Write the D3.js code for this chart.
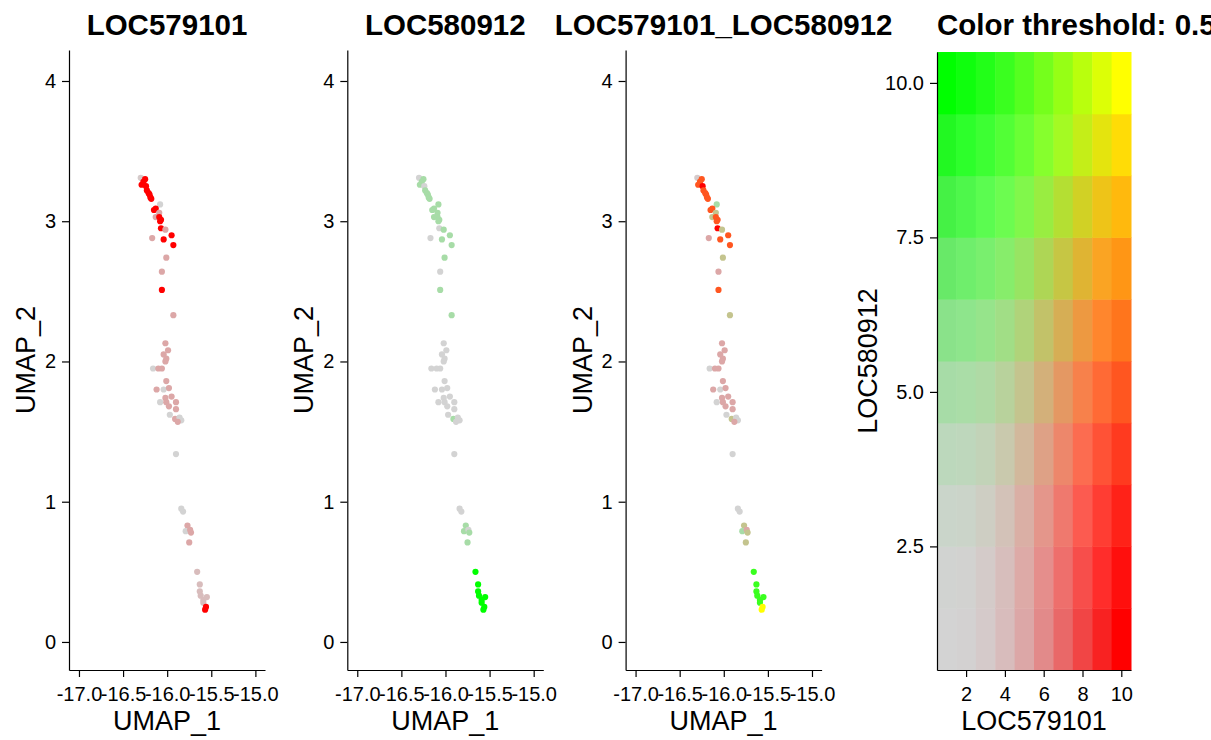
<!DOCTYPE html>
<html>
<head>
<meta charset="utf-8">
<script src="https://cdn.jsdelivr.net/npm/d3@7"></script>
<style>
  body { margin: 0; background: #fff; }
  svg text { font-family: "Liberation Sans", Arial, sans-serif; fill: #000; }
  .title { font-size: 29.5px; font-weight: bold; }
  .axis-title { font-size: 27px; }
  .tick text { font-size: 20px; }
  .domain, .tick line { stroke: #000; stroke-width: 1.2px; }
</style>
</head>
<body>
<svg width="1211" height="740"></svg>
<script>
const gene1 = "LOC579101";
const gene2 = "LOC580912";
const colThreshold = 0.5;

// UMAP coordinates of each cell
const umap1 = [
  -16.30, -16.25, -16.27, -16.29, -16.24, -16.23, -16.21, -16.20, -16.19, -16.18,
  -16.08, -16.13, -16.15, -16.09, -16.13, -16.09, -16.07, -16.08, -16.07, -16.02,
  -16.17, -16.04, -15.95, -15.93, -16.01, -16.06, -16.06, -15.93, -16.02, -15.99,
  -16.04, -16.01, -16.02, -16.16, -16.10, -16.06, -16.01, -16.12, -16.04, -15.98,
  -16.08, -16.02, -16.01, -15.95, -15.98, -15.90, -15.90, -15.91, -15.97, -15.86,
  -15.84, -15.88, -15.90, -15.84, -15.82, -15.77, -15.79, -15.74, -15.73, -15.75,
  -15.66, -15.63, -15.63, -15.62, -15.55, -15.59, -15.59, -15.56, -15.57
];
const umap2 = [
  3.31, 3.30, 3.28, 3.26, 3.25, 3.22, 3.20, 3.19, 3.17, 3.16,
  3.12, 3.09, 3.08, 3.06, 3.03, 3.03, 3.01, 3.00, 2.95, 2.94,
  2.88, 2.87, 2.90, 2.83, 2.74, 2.64, 2.51, 2.33, 2.13, 2.08,
  2.05, 2.02, 2.00, 1.95, 1.95, 1.95, 1.86, 1.80, 1.80, 1.81,
  1.71, 1.74, 1.71, 1.75, 1.68, 1.71, 1.66, 1.59, 1.62, 1.60,
  1.58, 1.57, 1.34, 0.95, 0.93, 0.83, 0.79, 0.80, 0.78, 0.71,
  0.50, 0.41, 0.36, 0.33, 0.32, 0.30, 0.28, 0.25, 0.23
];
// binned expression (1-10) of each gene per cell
const level1 = [
  3, 10, 10, 10, 10, 10, 10, 10, 10, 10,
  1, 10, 10, 5, 5, 10, 10, 10, 10, 5,
  5, 10, 10, 10, 5, 5, 10, 5, 5, 5,
  5, 5, 5, 1, 5, 5, 5, 5, 1, 5,
  1, 5, 5, 5, 5, 5, 5, 5, 1, 1,
  1, 5, 1, 1, 1, 5, 1, 5, 5, 5,
  4, 4, 4, 4, 4, 4, 4, 10, 10
];
const level2 = [
  1, 5, 5, 5, 1, 5, 5, 5, 5, 5,
  5, 5, 5, 5, 5, 5, 5, 5, 1, 5,
  1, 5, 5, 5, 5, 1, 5, 5, 1, 1,
  1, 1, 1, 1, 1, 1, 1, 1, 1, 1,
  1, 1, 1, 1, 1, 1, 1, 5, 1, 1,
  1, 1, 1, 1, 1, 5, 5, 1, 5, 5,
  10, 10, 10, 10, 10, 10, 10, 10, 10
];

const xTicks = [-17, -16.5, -16, -15.5, -15];
const yTicks = [0, 1, 2, 3, 4];
const blendLevels = [1, 2, 3, 4, 5, 6, 7, 8, 9, 10];
const blendXTicks = [2, 4, 6, 8, 10];
const blendYTicks = [2.5, 5, 7.5, 10];

// Seurat style blend of two gradients (negative: lightgrey, red, green)
const blendColor = (i, j, n = 10) => {
  const c0 = [211, 211, 211], c1 = [255, 0, 0], c2 = [0, 255, 0];
  const sig = x => 1 / (1 + Math.exp(-x));
  const cMin = sig(5 * (1 / n - colThreshold));
  const cMax = sig(5 * (1 - colThreshold));
  const norm = w => (w - cMin) / (cMax - cMin);
  const w1 = norm(sig(5 * (i / n - colThreshold)));
  const w2 = norm(sig(5 * (j / n - colThreshold)));
  const w0 = norm(sig(5 * ((i + j) / (2 * n) - colThreshold)));
  const rgb = c0.map((c, k) =>
    (c1[k] - c) * w1 * (i - 1) / (n - 1) +
    (c2[k] - c) * w2 * (j - 1) / (n - 1) +
    (i - 1) * (j - 1) * w0 * c / ((n - 1) ** 2) + c);
  return d3.rgb(...rgb.map(v => Math.max(0, Math.min(255, v)))).formatHex();
};

window.onload = () => {
  const svg = d3.select("svg");
  const cells = umap1.map((u, i) => ({ u1: u, u2: umap2[i], l1: level1[i], l2: level2[i] }));

  const plotW = 196, plotTop = 50, plotH = 620;

  const x = d3.scaleLinear().domain([-17.113, -14.891]).range([0, plotW]);
  const y = d3.scaleLinear().domain([-0.2, 4.221]).range([plotH, 0]);

  const panels = [
    { title: gene1, left: 69, color: d => blendColor(d.l1, 1) },
    { title: gene2, left: 347.3, color: d => blendColor(1, d.l2) },
    { title: `${gene1}_${gene2}`, left: 625.6, color: d => blendColor(d.l1, d.l2) }
  ];

  panels.forEach(p => drawScatter(svg, p, cells, x, y, plotW, plotTop, plotH));
  drawBlendMatrix(svg);
};

const drawScatter = (svg, p, cells, x, y, plotW, plotTop, plotH) => {
  const g = svg.append("g")
    .attr("transform", `translate(${p.left}, ${plotTop})`);

  g.append("g")
    .attr("transform", `translate(0, ${plotH})`)
    .call(d3.axisBottom(x).tickValues(xTicks).tickSize(7).tickSizeOuter(0).tickPadding(10)
      .tickFormat(d => d.toFixed(1)));

  g.append("g")
    .call(d3.axisLeft(y).tickValues(yTicks).tickSize(7).tickSizeOuter(0).tickPadding(6)
      .tickFormat(d => d.toFixed(0)));

  g.append("g")
    .selectAll("circle")
    .data(cells)
    .enter().append("circle")
      .attr("cx", d => x(d.u1))
      .attr("cy", d => y(d.u2))
      .attr("r", 3.1)
      .attr("fill", p.color);

  g.append("text")
    .attr("class", "title")
    .attr("text-anchor", "middle")
    .attr("x", plotW / 2)
    .attr("y", 35 - plotTop)
    .text(p.title);

  g.append("text")
    .attr("class", "axis-title")
    .attr("text-anchor", "middle")
    .attr("x", plotW / 2)
    .attr("y", 730 - plotTop)
    .text("UMAP_1");

  g.append("text")
    .attr("class", "axis-title")
    .attr("text-anchor", "middle")
    .attr("transform", `translate(${-34}, ${plotH / 2}) rotate(-90)`)
    .text("UMAP_2");
};

const drawBlendMatrix = (svg) => {
  const left = 937, right = 1131, top = 52, bottom = 670;

  const x = d3.scaleLinear().domain([0.5, 10.5]).range([left, right]);
  const y = d3.scaleLinear().domain([0.5, 10.5]).range([bottom, top]);

  const grid = blendLevels.flatMap(i => blendLevels.map(j => ({ i, j })));

  svg.append("g")
    .selectAll("rect")
    .data(grid)
    .enter().append("rect")
      .attr("x", d => x(d.i - 0.5))
      .attr("y", d => y(d.j + 0.5))
      .attr("width", x(1.5) - x(0.5) + 0.5)
      .attr("height", y(0.5) - y(1.5) + 0.5)
      .attr("fill", d => blendColor(d.i, d.j));

  svg.append("g")
    .attr("transform", `translate(0, ${bottom})`)
    .call(d3.axisBottom(x).tickValues(blendXTicks).tickSize(7).tickSizeOuter(0).tickPadding(10)
      .tickFormat(d => d.toFixed(0)));

  svg.append("g")
    .attr("transform", `translate(${left}, 0)`)
    .call(d3.axisLeft(y).tickValues(blendYTicks).tickSize(7).tickSizeOuter(0).tickPadding(6)
      .tickFormat(d => d.toFixed(1)));

  svg.append("text")
    .attr("class", "title")
    .attr("x", left)
    .attr("y", 35)
    .text(`Color threshold: ${colThreshold}`);

  svg.append("text")
    .attr("class", "axis-title")
    .attr("text-anchor", "middle")
    .attr("x", (left + right) / 2)
    .attr("y", 730)
    .text(gene1);

  svg.append("text")
    .attr("class", "axis-title")
    .attr("text-anchor", "middle")
    .attr("transform", `translate(${left - 60}, ${(top + bottom) / 2}) rotate(-90)`)
    .text(gene2);
};
</script>
</body>
</html>
